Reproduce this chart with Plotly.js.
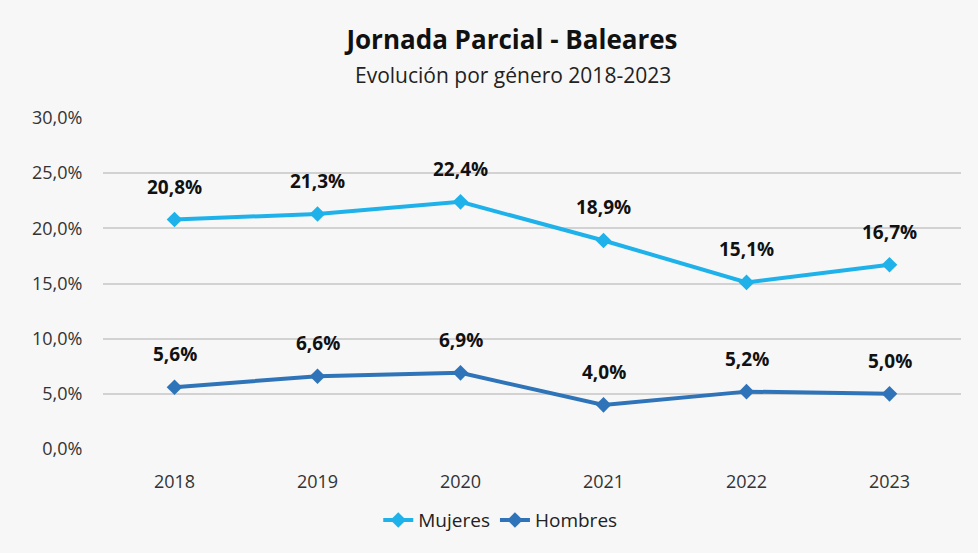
<!DOCTYPE html>
<html><head><meta charset="utf-8">
<script src="https://cdn.plot.ly/plotly-3.0.1.min.js"></script>
<style>html,body{margin:0;padding:0;background:#f7f7f7;}</style>
</head><body>
<div id="chart" style="width:978px;height:553px;"></div>
<script>
const years = ['2018','2019','2020','2021','2022','2023'];
const mujeres = [20.8, 21.3, 22.4, 18.9, 15.1, 16.7];
const hombres = [5.6, 6.6, 6.9, 4.0, 5.2, 5.0];
const tickVals = [0,5,10,15,20,25,30];
const tickText = ['0,0%','5,0%','10,0%','15,0%','20,0%','25,0%','30,0%'];
const fmt = v => v.toFixed(1).replace('.', ',') + '%';
const font = "'Open Sans', 'Noto Sans', sans-serif";

const traces = [
  {x: years, y: mujeres, name: 'Mujeres', mode: 'lines+markers', type: 'scatter',
   line: {color: '#1fb2ea', width: 4}, marker: {symbol: 'diamond', size: 12, color: '#1fb2ea'}},
  {x: years, y: hombres, name: 'Hombres', mode: 'lines+markers', type: 'scatter',
   line: {color: '#2f74b8', width: 4}, marker: {symbol: 'diamond', size: 12, color: '#2f74b8'}}
];
const annotations = [];
[mujeres, hombres].forEach(s => s.forEach((v, i) => annotations.push({
  x: i, xref: 'x', y: v, yref: 'y', text: '<b>' + fmt(v) + '</b>', showarrow: false, yshift: 33,
  font: {family: font, size: 19, color: '#111'}
})));
annotations.push({xref:'paper', yref:'paper', x:0.478, y:1, yshift:43, yanchor:'middle', xanchor:'center',
  text:'Evolución por género 2018-2023', showarrow:false, font:{family:font, size:21, color:'#222'}});

const layout = {
  width: 978, height: 553,
  paper_bgcolor: '#f7f7f7', plot_bgcolor: '#f7f7f7',
  margin: {l: 103, r: 17, t: 118, b: 104},
  title: {text: '<b>Jornada Parcial - Baleares</b>', x: 0.5235, xref: 'container', yref: 'container', y: 0.928,
          xanchor: 'center', yanchor: 'middle',
          font: {family: font, size: 26, color: '#111'}},
  xaxis: {type: 'category', range: [-0.5, 5.5], showgrid: false, zeroline: false, showline: false,
          ticks: 'outside', ticklen: 16, tickcolor: 'rgba(0,0,0,0)',
          tickfont: {family: font, size: 18, color: '#333'}},
  yaxis: {range: [0, 30], tickvals: tickVals, ticktext: tickText, showgrid: true,
          gridcolor: '#d2d2d2', gridwidth: 1.5, zeroline: false, showline: false,
          tickfont: {family: font, size: 18, color: '#333'}, ticklen: 16, ticks: 'outside', tickcolor: 'rgba(0,0,0,0)'},
  showlegend: true,
  legend: {orientation: 'h', x: 0.463, xanchor: 'center', y: -0.215, yanchor: 'middle',
           font: {family: font, size: 19, color: '#222'}},
  annotations: annotations
};
Plotly.newPlot('chart', traces, layout, {displayModeBar: false});
</script>
</body></html>
